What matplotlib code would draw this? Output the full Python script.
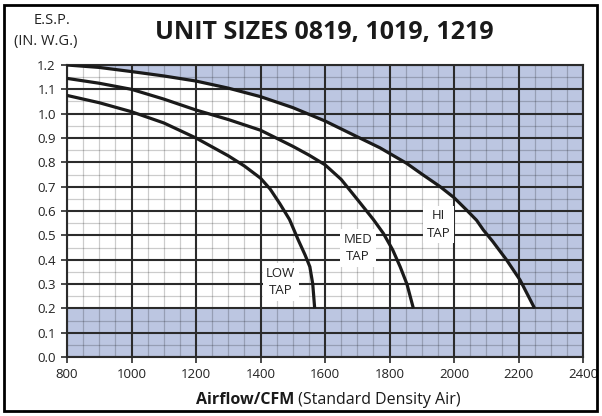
import matplotlib
matplotlib.use("Agg")
import matplotlib.pyplot as plt
from matplotlib.patches import Rectangle
import numpy as np

# Data
hi_cfm = [800, 900, 1000, 1100, 1200, 1300, 1400, 1500, 1600, 1700, 1770, 1853, 1900, 1957, 2000, 2039, 2070, 2091, 2120, 2163, 2205, 2250]
hi_esp = [1.20, 1.19, 1.173, 1.155, 1.134, 1.105, 1.07, 1.025, 0.97, 0.905, 0.86, 0.796, 0.752, 0.70, 0.655, 0.604, 0.562, 0.522, 0.475, 0.399, 0.316, 0.20]

med_cfm = [800, 900, 1000, 1100, 1200, 1300, 1400, 1500, 1550, 1600, 1650, 1700, 1750, 1781, 1810, 1833, 1854, 1874]
med_esp = [1.145, 1.125, 1.10, 1.06, 1.015, 0.976, 0.932, 0.866, 0.83, 0.79, 0.73, 0.648, 0.565, 0.508, 0.44, 0.371, 0.30, 0.20]

low_cfm = [800, 900, 1000, 1100, 1200, 1300, 1350, 1400, 1430, 1460, 1490, 1517, 1538, 1553, 1562, 1568]
low_esp = [1.075, 1.045, 1.008, 0.962, 0.90, 0.827, 0.785, 0.735, 0.69, 0.63, 0.565, 0.481, 0.42, 0.371, 0.30, 0.20]

x_ticks = [800, 1000, 1200, 1400, 1600, 1800, 2000, 2200, 2400]
y_ticks = [0.0, 0.1, 0.2, 0.3, 0.4, 0.5, 0.6, 0.7, 0.8, 0.9, 1.0, 1.1, 1.2]

labels = ["LOW\nTAP", "MED\nTAP", "HI\nTAP"]
label_cfm = [1463, 1702, 1952]
label_esp = [0.308, 0.448, 0.545]

min_floor = 0.2

plt.rcParams['font.family'] = ['Open Sans', 'DejaVu Sans']

fig = plt.figure(figsize=(6.02, 4.16), dpi=100)
ax = fig.add_axes([67/602, 1-357/416, (583-67)/602, (357-65)/416])

blue = '#bcc6e1'
xmin, xmax = x_ticks[0], x_ticks[-1]
ymin, ymax = y_ticks[0], y_ticks[-1]

# Shaded regions
poly_x = list(hi_cfm) + [xmax, xmax]
poly_y = list(hi_esp) + [min_floor, ymax]
ax.fill(poly_x, poly_y, color=blue, lw=0, zorder=0)
ax.fill_between([xmin, xmax], ymin, min_floor, color=blue, lw=0, zorder=0)

# Grid
for xv in np.arange(xmin, xmax + 1, 50):
    if xv % 200:
        ax.axvline(xv, color='black', alpha=0.2, lw=0.9, zorder=1)
for yv in np.arange(ymin, ymax + 0.001, 0.05):
    if round(yv * 100) % 10:
        ax.axhline(yv, color='black', alpha=0.2, lw=0.9, zorder=1)
for xv in x_ticks:
    ax.axvline(xv, color='#2b2b2b', lw=1.5, zorder=2)
for yv in y_ticks:
    ax.axhline(yv, color='#2b2b2b', lw=1.5, zorder=2)

# Curves
for cx, cy in [(hi_cfm, hi_esp), (med_cfm, med_esp), (low_cfm, low_esp)]:
    ax.plot(cx, cy, color='#1a1a1a', lw=2.3, zorder=4, solid_capstyle='butt',
            solid_joinstyle='round')

# Labels
for t, xv, yv in zip(labels, label_cfm, label_esp):
    ax.text(xv, yv, t, ha='center', va='center', fontsize=9.5, color='#222222',
            linespacing=1.45, zorder=5,
            bbox=dict(facecolor='white', edgecolor='none', pad=2.5))

ax.set_xlim(xmin, xmax)
ax.set_ylim(ymin, ymax)
ax.set_xticks(x_ticks)
ax.set_yticks(y_ticks)
ax.set_yticklabels([f"{v:.1f}" for v in y_ticks])
ax.tick_params(length=4, width=1.2, color='#2b2b2b', labelsize=9.5, labelcolor='#222222', pad=4)
for s in ax.spines.values():
    s.set_color('#2b2b2b')
    s.set_linewidth(1.5)

# Texts
fig.text(324/602, 1-33/416, "UNIT SIZES 0819, 1019, 1219", ha='center', va='center',
         fontsize=18, fontweight='bold', color='#1a1a1a')
fig.text(52/602, 1-20/416, "E.S.P.", ha='center', va='center', fontsize=10.5, color='#222222')
fig.text(46/602, 1-42/416, "(IN. W.G.)", ha='center', va='center', fontsize=10.5, color='#222222')

t1 = fig.text(0, 0, "Airflow/CFM", fontsize=11.5, fontweight='bold', color='#1a1a1a', va='center')
t2 = fig.text(0, 0, " (Standard Density Air)", fontsize=11.5, color='#1a1a1a', va='center')
fig.canvas.draw()
r = fig.canvas.get_renderer()
w1 = t1.get_window_extent(r).width
w2 = t2.get_window_extent(r).width
cx = 328
start = cx - (w1 + w2) / 2
t1.set_position((start / 602, 1 - 400/416))
t2.set_position(((start + w1) / 602, 1 - 400/416))

# Outer border
fig.patches.append(Rectangle((4/602, 5/416), 593/602, 406/416, transform=fig.transFigure,
                             fill=False, edgecolor='black', lw=2))

fig.savefig("out.png", dpi=100)
